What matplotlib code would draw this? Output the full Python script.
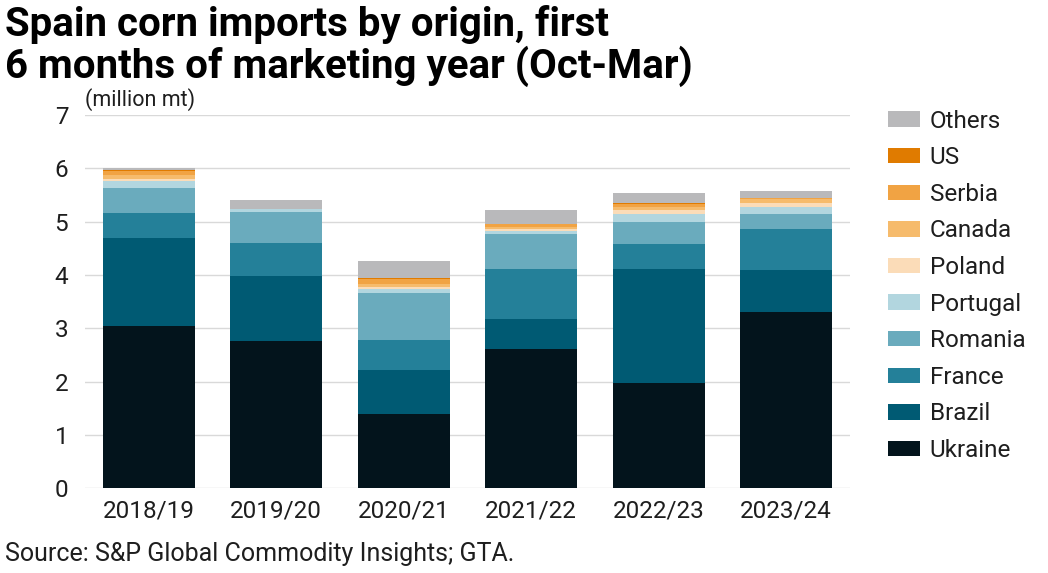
import matplotlib.pyplot as plt
import numpy as np

plt.rcParams['font.family'] = ['Roboto', 'DejaVu Sans']

years = ['2018/19', '2019/20', '2020/21', '2021/22', '2022/23', '2023/24']
origins = ['Ukraine', 'Brazil', 'France', 'Romania', 'Portugal', 'Poland',
           'Canada', 'Serbia', 'US', 'Others']

ukraine = [3.05, 2.77, 1.40, 2.62, 1.97, 3.30]
brazil = [1.65, 1.22, 0.81, 0.56, 2.15, 0.79]
france = [0.47, 0.62, 0.58, 0.94, 0.47, 0.78]
romania = [0.47, 0.57, 0.87, 0.65, 0.40, 0.27]
portugal = [0.12, 0.06, 0.08, 0.06, 0.15, 0.13]
poland = [0.05, 0.00, 0.04, 0.04, 0.08, 0.09]
canada = [0.06, 0.00, 0.06, 0.03, 0.05, 0.06]
serbia = [0.08, 0.00, 0.09, 0.05, 0.06, 0.02]
us = [0.02, 0.00, 0.01, 0.01, 0.02, 0.00]
others = [0.03, 0.17, 0.33, 0.26, 0.19, 0.13]

series = [ukraine, brazil, france, romania, portugal, poland, canada, serbia, us, others]
colors = ['#03141c', '#005a73', '#248099', '#6aabbd', '#b2d6df', '#fbdcb8',
          '#f6bb6c', '#f1a343', '#e07b00', '#b9b9bb']

fig = plt.figure(figsize=(10.48, 5.73), dpi=100)
ax = fig.add_axes([0.081, 0.148, 0.73, 0.651])

x = np.arange(len(years))
bottom = np.zeros(len(years))
handles = []
for name, vals, c in zip(origins, series, colors):
    b = ax.bar(x, vals, 0.72, bottom=bottom, color=c, label=name, zorder=3)
    bottom += np.array(vals)
    handles.append(b)

ax.set_xlim(-0.5, 5.5)
ax.set_ylim(0, 7)
ax.set_xticks(x)
ax.set_xticklabels(years)
ax.set_yticks(range(8))
ax.tick_params(length=0, labelsize=17.5, colors='#1e1e1e')
ax.tick_params(axis='y', pad=12)
ax.tick_params(axis='x', pad=8)
ax.grid(axis='y', color='#d9d9d9', linewidth=1, zorder=0)
for s in ax.spines.values():
    s.set_visible(False)

ax.text(0.0, 1.012, '(million mt)', transform=ax.transAxes, fontsize=15.5,
        color='#1e1e1e', va='bottom', ha='left')

leg = fig.legend(handles[::-1], origins[::-1], loc='upper left',
                 bbox_to_anchor=(0.836, 0.83), frameon=False, fontsize=17.5,
                 handlelength=1.3, handleheight=0.6, labelspacing=0.56,
                 handletextpad=0.4, borderpad=0, labelcolor='#1e1e1e')

fig.text(0.005, 0.992, 'Spain corn imports by origin, first\n6 months of marketing year (Oct-Mar)',
         fontsize=29, fontweight='bold', va='top', ha='left', color='#000000',
         linespacing=1.05)
fig.text(0.005, 0.012, 'Source: S&P Global Commodity Insights; GTA.', fontsize=18,
         color='#1e1e1e', va='bottom', ha='left')

fig.savefig('out.png', dpi=100)
